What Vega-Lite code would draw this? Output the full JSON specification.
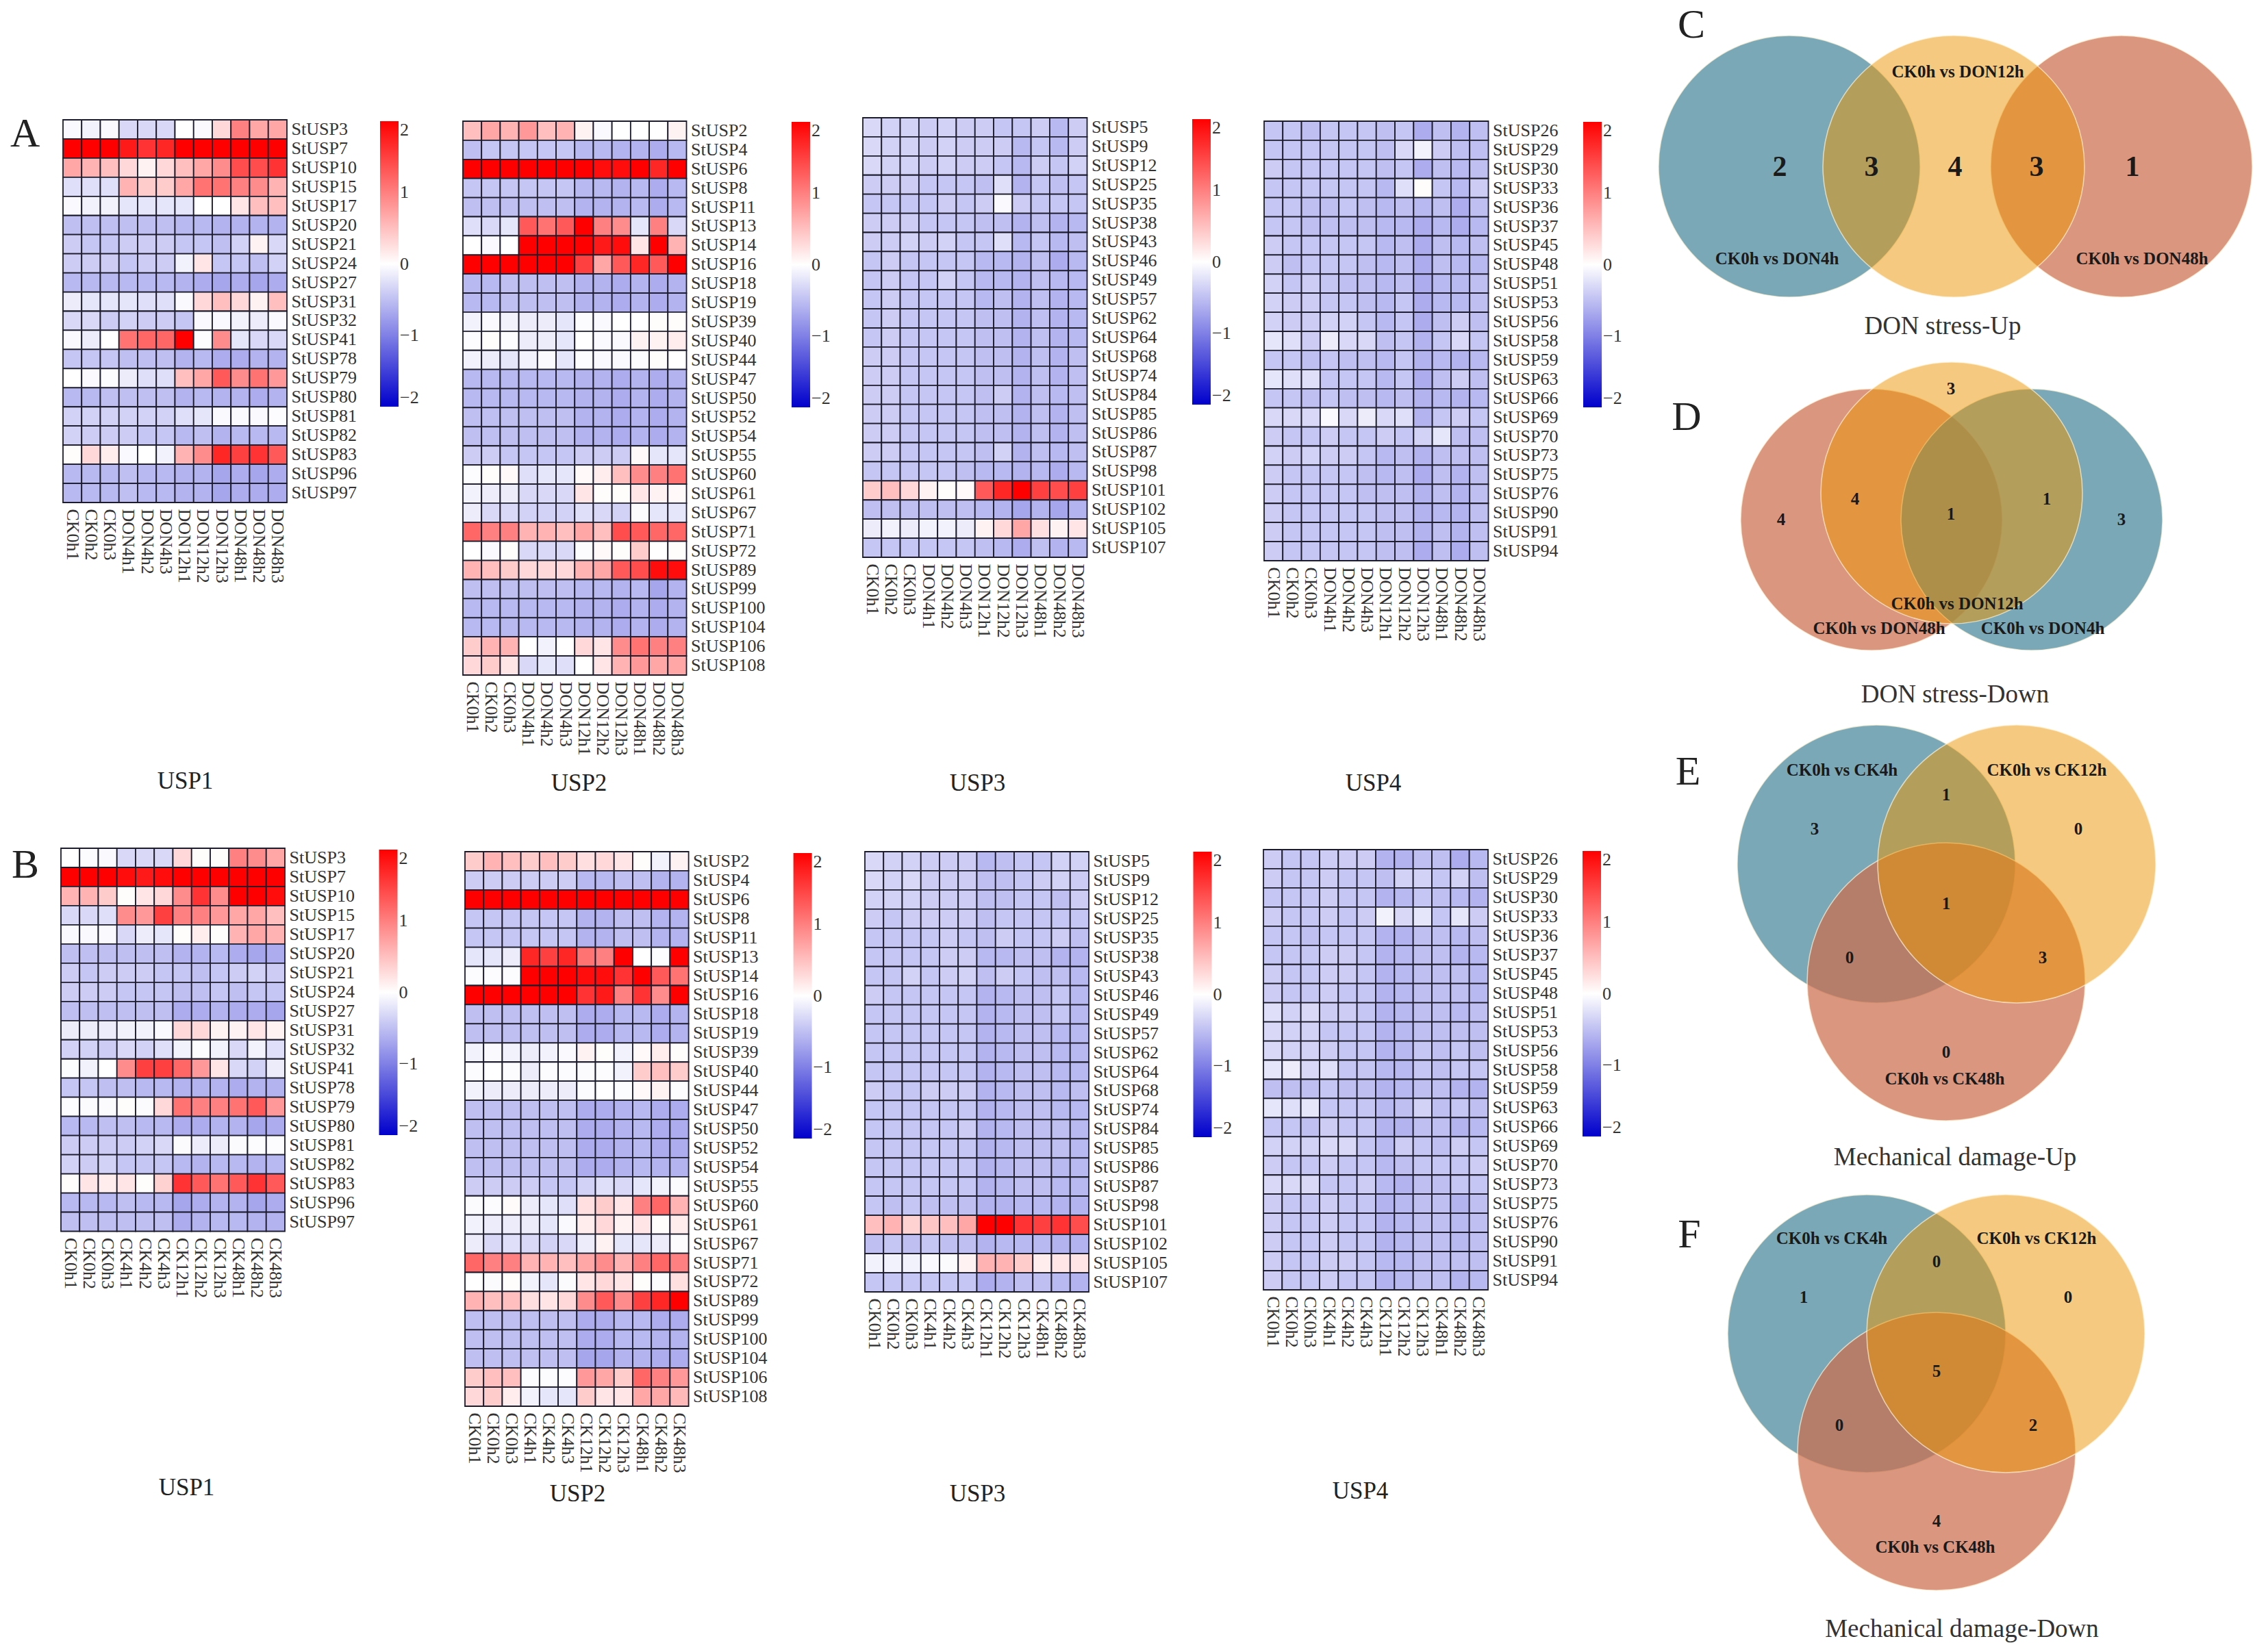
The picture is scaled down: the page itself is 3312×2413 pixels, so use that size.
{"$schema":"https://vega.github.io/schema/vega-lite/v6.json","background":"white","padding":0,"spacing":0,"resolve":{"scale":{"color":"independent"},"legend":{"color":"independent"}},
"params":[{"name":"keys","value":["a","b","c","d","e","f","g2","h","i","j","k","l"]},{"name":"don","value":["CK0h1","CK0h2","CK0h3","DON4h1","DON4h2","DON4h3","DON12h1","DON12h2","DON12h3","DON48h1","DON48h2","DON48h3"]},{"name":"ck","value":["CK0h1","CK0h2","CK0h3","CK4h1","CK4h2","CK4h3","CK12h1","CK12h2","CK12h3","CK48h1","CK48h2","CK48h3"]}],
"config":{"view":{"stroke":null},"font":"Liberation Serif","axis":{"ticks":false,"domain":false,"grid":false,"labelFont":"Liberation Serif","labelFontSize":26,"labelColor":"#333","labelOverlap":false,"labelPadding":9,"labelLimit":300,"titleFont":"Liberation Serif","titleFontWeight":"normal","titleFontSize":35,"titleColor":"#222","titleBaseline":"middle"},"axisX":{"labelAngle":90,"labelAlign":"left","labelBaseline":"middle"},"axisY":{"labelPadding":6},"legend":{"gradientLength":417,"gradientThickness":27,"gradientStrokeWidth":0,"labelFont":"Liberation Serif","labelFontSize":26,"labelColor":"#333","labelOffset":8,"labelOverlap":false,"labelBaseline":"middle"},"title":{"font":"Liberation Serif","fontWeight":"normal","fontSize":60,"color":"#222","anchor":"start","frame":"group","offset":0,"baseline":"alphabetic"},"rect":{"stroke":"#1c1c2c","strokeWidth":1.8}},
"datasets":{
"A1":[
{"g":"StUSP3","a":-0.05,"b":-0.1,"c":-0.05,"d":-0.3,"e":-0.3,"f":-0.3,"g2":0,"h":-0.05,"i":0.3,"j":1,"k":0.7,"l":0.7},
{"g":"StUSP7","a":2,"b":2,"c":2,"d":1.8,"e":1.6,"f":1.7,"g2":2,"h":2,"i":2,"j":2,"k":2,"l":2},
{"g":"StUSP10","a":0.7,"b":0.6,"c":0.5,"d":0.3,"e":0.1,"f":0.3,"g2":0.5,"h":0.7,"i":0.9,"j":1.4,"k":1.4,"l":1.6},
{"g":"StUSP15","a":-0.25,"b":-0.25,"c":-0.25,"d":0.6,"e":0.4,"f":0.4,"g2":0.7,"h":1.1,"i":1.1,"j":1,"k":0.9,"l":0.6},
{"g":"StUSP17","a":-0.05,"b":-0.1,"c":-0.1,"d":-0.2,"e":-0.2,"f":-0.2,"g2":-0.2,"h":0,"i":0,"j":0.2,"k":0.5,"l":0.5},
{"g":"StUSP20","a":-0.5,"b":-0.5,"c":-0.5,"d":-0.5,"e":-0.5,"f":-0.5,"g2":-0.55,"h":-0.55,"i":-0.6,"j":-0.6,"k":-0.6,"l":-0.6},
{"g":"StUSP21","a":-0.4,"b":-0.45,"c":-0.45,"d":-0.4,"e":-0.4,"f":-0.4,"g2":-0.45,"h":-0.45,"i":-0.5,"j":-0.35,"k":0.1,"l":-0.3},
{"g":"StUSP24","a":-0.4,"b":-0.4,"c":-0.4,"d":-0.45,"e":-0.4,"f":-0.4,"g2":-0.1,"h":0.2,"i":-0.45,"j":-0.45,"k":-0.5,"l":-0.35},
{"g":"StUSP27","a":-0.55,"b":-0.55,"c":-0.55,"d":-0.55,"e":-0.55,"f":-0.55,"g2":-0.6,"h":-0.65,"i":-0.7,"j":-0.65,"k":-0.7,"l":-0.65},
{"g":"StUSP31","a":-0.15,"b":-0.2,"c":-0.2,"d":-0.2,"e":-0.25,"f":-0.25,"g2":-0.05,"h":0.3,"i":0.5,"j":0.3,"k":0.1,"l":0.5},
{"g":"StUSP32","a":-0.3,"b":-0.3,"c":-0.4,"d":-0.35,"e":-0.4,"f":-0.4,"g2":-0.45,"h":-0.05,"i":-0.05,"j":-0.1,"k":-0.15,"l":-0.05},
{"g":"StUSP41","a":-0.05,"b":-0.15,"c":0,"d":1.1,"e":1.2,"f":1.2,"g2":2,"h":-0.02,"i":0.9,"j":-0.2,"k":-0.3,"l":-0.3},
{"g":"StUSP78","a":-0.45,"b":-0.45,"c":-0.45,"d":-0.5,"e":-0.5,"f":-0.5,"g2":-0.6,"h":-0.55,"i":-0.65,"j":-0.65,"k":-0.6,"l":-0.6},
{"g":"StUSP79","a":0,"b":-0.05,"c":-0.02,"d":-0.15,"e":-0.25,"f":-0.25,"g2":0.5,"h":0.7,"i":1.3,"j":0.9,"k":1.1,"l":0.8},
{"g":"StUSP80","a":-0.55,"b":-0.55,"c":-0.5,"d":-0.5,"e":-0.5,"f":-0.5,"g2":-0.6,"h":-0.55,"i":-0.6,"j":-0.6,"k":-0.65,"l":-0.6},
{"g":"StUSP81","a":-0.35,"b":-0.35,"c":-0.35,"d":-0.35,"e":-0.35,"f":-0.35,"g2":-0.25,"h":-0.2,"i":-0.05,"j":-0.05,"k":-0.05,"l":-0.02},
{"g":"StUSP82","a":-0.35,"b":-0.4,"c":-0.4,"d":-0.4,"e":-0.45,"f":-0.45,"g2":-0.55,"h":-0.5,"i":-0.6,"j":-0.55,"k":-0.55,"l":-0.55},
{"g":"StUSP83","a":0.02,"b":0.3,"c":0.15,"d":-0.05,"e":0,"f":-0.1,"g2":0.6,"h":0.9,"i":1.7,"j":1.5,"k":1.6,"l":1.3},
{"g":"StUSP96","a":-0.55,"b":-0.55,"c":-0.55,"d":-0.5,"e":-0.55,"f":-0.55,"g2":-0.6,"h":-0.6,"i":-0.7,"j":-0.65,"k":-0.7,"l":-0.65},
{"g":"StUSP97","a":-0.55,"b":-0.55,"c":-0.55,"d":-0.5,"e":-0.55,"f":-0.55,"g2":-0.6,"h":-0.6,"i":-0.7,"j":-0.65,"k":-0.65,"l":-0.65}],
"A2":[
{"g":"StUSP2","a":0.5,"b":0.7,"c":0.6,"d":0.8,"e":0.5,"f":0.6,"g2":0.1,"h":-0.05,"i":0,"j":0,"k":0,"l":0.1},
{"g":"StUSP4","a":-0.5,"b":-0.45,"c":-0.45,"d":-0.45,"e":-0.45,"f":-0.45,"g2":-0.55,"h":-0.55,"i":-0.6,"j":-0.6,"k":-0.65,"l":-0.55},
{"g":"StUSP6","a":2,"b":2,"c":2,"d":2,"e":2,"f":2,"g2":2,"h":1.9,"i":1.9,"j":2,"k":1.7,"l":2},
{"g":"StUSP8","a":-0.45,"b":-0.45,"c":-0.45,"d":-0.45,"e":-0.45,"f":-0.45,"g2":-0.55,"h":-0.55,"i":-0.6,"j":-0.55,"k":-0.65,"l":-0.55},
{"g":"StUSP11","a":-0.5,"b":-0.5,"c":-0.5,"d":-0.5,"e":-0.5,"f":-0.5,"g2":-0.6,"h":-0.6,"i":-0.6,"j":-0.55,"k":-0.65,"l":-0.55},
{"g":"StUSP13","a":-0.25,"b":-0.3,"c":-0.2,"d":1.3,"e":1.1,"f":1.3,"g2":2,"h":1,"i":0.9,"j":-0.2,"k":1,"l":-0.3},
{"g":"StUSP14","a":0,"b":-0.05,"c":0,"d":2,"e":2,"f":2,"g2":2,"h":1.8,"i":1.9,"j":0.2,"k":2,"l":0.6},
{"g":"StUSP16","a":2,"b":2,"c":2,"d":2,"e":2,"f":2,"g2":1.5,"h":0.7,"i":1.3,"j":1.7,"k":1.3,"l":2},
{"g":"StUSP18","a":-0.55,"b":-0.55,"c":-0.5,"d":-0.5,"e":-0.5,"f":-0.5,"g2":-0.6,"h":-0.6,"i":-0.65,"j":-0.6,"k":-0.65,"l":-0.6},
{"g":"StUSP19","a":-0.55,"b":-0.55,"c":-0.5,"d":-0.5,"e":-0.5,"f":-0.5,"g2":-0.6,"h":-0.6,"i":-0.65,"j":-0.6,"k":-0.65,"l":-0.6},
{"g":"StUSP39","a":-0.1,"b":-0.05,"c":-0.1,"d":-0.15,"e":-0.15,"f":-0.2,"g2":-0.02,"h":-0.05,"i":0,"j":0,"k":0.02,"l":0.02},
{"g":"StUSP40","a":-0.02,"b":0.02,"c":-0.02,"d":-0.15,"e":-0.15,"f":-0.2,"g2":0,"h":-0.05,"i":-0.05,"j":0.1,"k":0.1,"l":0.15},
{"g":"StUSP44","a":-0.1,"b":-0.15,"c":-0.2,"d":-0.1,"e":-0.05,"f":-0.2,"g2":-0.02,"h":-0.05,"i":-0.05,"j":-0.02,"k":0.02,"l":0},
{"g":"StUSP47","a":-0.55,"b":-0.55,"c":-0.55,"d":-0.55,"e":-0.55,"f":-0.55,"g2":-0.6,"h":-0.6,"i":-0.65,"j":-0.6,"k":-0.65,"l":-0.6},
{"g":"StUSP50","a":-0.55,"b":-0.55,"c":-0.55,"d":-0.55,"e":-0.55,"f":-0.55,"g2":-0.6,"h":-0.6,"i":-0.65,"j":-0.6,"k":-0.65,"l":-0.6},
{"g":"StUSP52","a":-0.5,"b":-0.5,"c":-0.5,"d":-0.5,"e":-0.5,"f":-0.5,"g2":-0.6,"h":-0.6,"i":-0.65,"j":-0.6,"k":-0.65,"l":-0.6},
{"g":"StUSP54","a":-0.5,"b":-0.5,"c":-0.5,"d":-0.5,"e":-0.5,"f":-0.5,"g2":-0.6,"h":-0.6,"i":-0.65,"j":-0.6,"k":-0.65,"l":-0.6},
{"g":"StUSP55","a":-0.4,"b":-0.4,"c":-0.45,"d":-0.45,"e":-0.45,"f":-0.45,"g2":-0.4,"h":-0.4,"i":-0.4,"j":0.05,"k":-0.2,"l":-0.2},
{"g":"StUSP60","a":-0.02,"b":0.02,"c":0.05,"d":-0.25,"e":-0.2,"f":-0.2,"g2":0.05,"h":0.15,"i":0.5,"j":0.9,"k":1,"l":1.1},
{"g":"StUSP61","a":-0.1,"b":-0.15,"c":-0.15,"d":-0.3,"e":-0.3,"f":-0.3,"g2":0.2,"h":0.02,"i":0.02,"j":0.2,"k":0.1,"l":0.05},
{"g":"StUSP67","a":-0.15,"b":-0.3,"c":-0.3,"d":-0.35,"e":-0.35,"f":-0.35,"g2":-0.25,"h":-0.3,"i":-0.35,"j":-0.03,"k":-0.2,"l":-0.2},
{"g":"StUSP71","a":1.2,"b":1,"c":1,"d":0.6,"e":0.6,"f":0.5,"g2":0.7,"h":0.5,"i":1.4,"j":1.3,"k":1.2,"l":1.2},
{"g":"StUSP72","a":0,"b":-0.05,"c":0.02,"d":-0.3,"e":-0.3,"f":-0.3,"g2":-0.02,"h":0.05,"i":0.02,"j":0.4,"k":0,"l":0.02},
{"g":"StUSP89","a":0.6,"b":0.5,"c":0.4,"d":0.3,"e":0.3,"f":0.3,"g2":0.6,"h":0.7,"i":1.3,"j":1.4,"k":1.9,"l":1.9},
{"g":"StUSP99","a":-0.5,"b":-0.5,"c":-0.5,"d":-0.5,"e":-0.5,"f":-0.5,"g2":-0.55,"h":-0.55,"i":-0.6,"j":-0.55,"k":-0.7,"l":-0.6},
{"g":"StUSP100","a":-0.55,"b":-0.55,"c":-0.55,"d":-0.55,"e":-0.55,"f":-0.55,"g2":-0.6,"h":-0.6,"i":-0.65,"j":-0.6,"k":-0.65,"l":-0.6},
{"g":"StUSP104","a":-0.55,"b":-0.55,"c":-0.55,"d":-0.55,"e":-0.55,"f":-0.55,"g2":-0.6,"h":-0.6,"i":-0.65,"j":-0.6,"k":-0.65,"l":-0.6},
{"g":"StUSP106","a":0.4,"b":0.6,"c":0.6,"d":0,"e":-0.1,"f":0,"g2":0.3,"h":0.2,"i":0.9,"j":1.1,"k":1,"l":1},
{"g":"StUSP108","a":0.3,"b":0.4,"c":0.2,"d":-0.3,"e":-0.2,"f":-0.25,"g2":0,"h":0.2,"i":0.6,"j":0.8,"k":0.7,"l":0.7}],
"A3":[
{"g":"StUSP5","a":-0.3,"b":-0.35,"c":-0.35,"d":-0.4,"e":-0.35,"f":-0.4,"g2":-0.4,"h":-0.45,"i":-0.45,"j":-0.4,"k":-0.55,"l":-0.4},
{"g":"StUSP9","a":-0.3,"b":-0.35,"c":-0.35,"d":-0.4,"e":-0.35,"f":-0.4,"g2":-0.4,"h":-0.4,"i":-0.55,"j":-0.45,"k":-0.55,"l":-0.4},
{"g":"StUSP12","a":-0.3,"b":-0.35,"c":-0.35,"d":-0.4,"e":-0.35,"f":-0.4,"g2":-0.4,"h":-0.45,"i":-0.55,"j":-0.4,"k":-0.45,"l":-0.35},
{"g":"StUSP25","a":-0.4,"b":-0.4,"c":-0.4,"d":-0.45,"e":-0.45,"f":-0.45,"g2":-0.5,"h":-0.25,"i":-0.6,"j":-0.45,"k":-0.5,"l":-0.45},
{"g":"StUSP35","a":-0.45,"b":-0.45,"c":-0.45,"d":-0.45,"e":-0.4,"f":-0.45,"g2":-0.4,"h":-0.05,"i":-0.4,"j":-0.45,"k":-0.45,"l":-0.45},
{"g":"StUSP38","a":-0.4,"b":-0.4,"c":-0.4,"d":-0.45,"e":-0.45,"f":-0.45,"g2":-0.5,"h":-0.5,"i":-0.6,"j":-0.5,"k":-0.6,"l":-0.55},
{"g":"StUSP43","a":-0.4,"b":-0.4,"c":-0.35,"d":-0.4,"e":-0.35,"f":-0.45,"g2":-0.45,"h":-0.25,"i":-0.55,"j":-0.45,"k":-0.55,"l":-0.5},
{"g":"StUSP46","a":-0.45,"b":-0.4,"c":-0.45,"d":-0.45,"e":-0.45,"f":-0.45,"g2":-0.55,"h":-0.55,"i":-0.6,"j":-0.5,"k":-0.65,"l":-0.55},
{"g":"StUSP49","a":-0.45,"b":-0.4,"c":-0.45,"d":-0.45,"e":-0.35,"f":-0.45,"g2":-0.55,"h":-0.55,"i":-0.6,"j":-0.5,"k":-0.55,"l":-0.55},
{"g":"StUSP57","a":-0.45,"b":-0.4,"c":-0.45,"d":-0.45,"e":-0.45,"f":-0.45,"g2":-0.55,"h":-0.5,"i":-0.6,"j":-0.5,"k":-0.6,"l":-0.55},
{"g":"StUSP62","a":-0.45,"b":-0.4,"c":-0.45,"d":-0.45,"e":-0.45,"f":-0.45,"g2":-0.5,"h":-0.5,"i":-0.6,"j":-0.5,"k":-0.6,"l":-0.55},
{"g":"StUSP64","a":-0.45,"b":-0.4,"c":-0.45,"d":-0.45,"e":-0.45,"f":-0.45,"g2":-0.5,"h":-0.5,"i":-0.6,"j":-0.5,"k":-0.6,"l":-0.55},
{"g":"StUSP68","a":-0.4,"b":-0.4,"c":-0.45,"d":-0.45,"e":-0.45,"f":-0.45,"g2":-0.5,"h":-0.5,"i":-0.6,"j":-0.5,"k":-0.6,"l":-0.5},
{"g":"StUSP74","a":-0.4,"b":-0.4,"c":-0.45,"d":-0.45,"e":-0.45,"f":-0.45,"g2":-0.5,"h":-0.5,"i":-0.6,"j":-0.5,"k":-0.6,"l":-0.5},
{"g":"StUSP84","a":-0.4,"b":-0.4,"c":-0.45,"d":-0.45,"e":-0.45,"f":-0.45,"g2":-0.5,"h":-0.4,"i":-0.6,"j":-0.5,"k":-0.55,"l":-0.5},
{"g":"StUSP85","a":-0.4,"b":-0.4,"c":-0.45,"d":-0.45,"e":-0.45,"f":-0.45,"g2":-0.5,"h":-0.5,"i":-0.6,"j":-0.5,"k":-0.6,"l":-0.5},
{"g":"StUSP86","a":-0.4,"b":-0.4,"c":-0.45,"d":-0.45,"e":-0.45,"f":-0.45,"g2":-0.5,"h":-0.5,"i":-0.6,"j":-0.5,"k":-0.6,"l":-0.5},
{"g":"StUSP87","a":-0.4,"b":-0.4,"c":-0.45,"d":-0.45,"e":-0.45,"f":-0.45,"g2":-0.5,"h":-0.35,"i":-0.6,"j":-0.5,"k":-0.55,"l":-0.5},
{"g":"StUSP98","a":-0.45,"b":-0.45,"c":-0.45,"d":-0.45,"e":-0.45,"f":-0.5,"g2":-0.55,"h":-0.55,"i":-0.6,"j":-0.55,"k":-0.65,"l":-0.55},
{"g":"StUSP101","a":0.4,"b":0.5,"c":0.3,"d":0.1,"e":0.02,"f":0.05,"g2":1.3,"h":1.7,"i":2,"j":1.5,"k":1.4,"l":1.5},
{"g":"StUSP102","a":-0.5,"b":-0.5,"c":-0.5,"d":-0.5,"e":-0.5,"f":-0.5,"g2":-0.55,"h":-0.6,"i":-0.7,"j":-0.6,"k":-0.7,"l":-0.6},
{"g":"StUSP105","a":-0.15,"b":-0.1,"c":-0.15,"d":-0.1,"e":-0.1,"f":-0.15,"g2":0.1,"h":0.3,"i":0.7,"j":0.25,"k":0.1,"l":0.2},
{"g":"StUSP107","a":-0.45,"b":-0.45,"c":-0.45,"d":-0.45,"e":-0.45,"f":-0.45,"g2":-0.5,"h":-0.55,"i":-0.65,"j":-0.5,"k":-0.6,"l":-0.55}],
"A4":[
{"g":"StUSP26","a":-0.45,"b":-0.45,"c":-0.5,"d":-0.45,"e":-0.45,"f":-0.45,"g2":-0.5,"h":-0.45,"i":-0.65,"j":-0.5,"k":-0.6,"l":-0.5},
{"g":"StUSP29","a":-0.45,"b":-0.45,"c":-0.45,"d":-0.45,"e":-0.45,"f":-0.45,"g2":-0.5,"h":-0.3,"i":-0.1,"j":-0.4,"k":-0.5,"l":-0.5},
{"g":"StUSP30","a":-0.4,"b":-0.45,"c":-0.45,"d":-0.45,"e":-0.45,"f":-0.45,"g2":-0.5,"h":-0.45,"i":-0.65,"j":-0.5,"k":-0.55,"l":-0.5},
{"g":"StUSP33","a":-0.45,"b":-0.45,"c":-0.45,"d":-0.45,"e":-0.45,"f":-0.45,"g2":-0.55,"h":-0.25,"i":0.02,"j":-0.45,"k":-0.55,"l":-0.4},
{"g":"StUSP36","a":-0.45,"b":-0.45,"c":-0.5,"d":-0.5,"e":-0.45,"f":-0.5,"g2":-0.55,"h":-0.5,"i":-0.55,"j":-0.5,"k":-0.65,"l":-0.5},
{"g":"StUSP37","a":-0.45,"b":-0.45,"c":-0.5,"d":-0.5,"e":-0.5,"f":-0.5,"g2":-0.55,"h":-0.55,"i":-0.65,"j":-0.55,"k":-0.65,"l":-0.55},
{"g":"StUSP45","a":-0.4,"b":-0.45,"c":-0.45,"d":-0.45,"e":-0.45,"f":-0.45,"g2":-0.55,"h":-0.5,"i":-0.65,"j":-0.5,"k":-0.55,"l":-0.5},
{"g":"StUSP48","a":-0.4,"b":-0.5,"c":-0.45,"d":-0.45,"e":-0.45,"f":-0.5,"g2":-0.55,"h":-0.5,"i":-0.65,"j":-0.5,"k":-0.55,"l":-0.55},
{"g":"StUSP51","a":-0.35,"b":-0.45,"c":-0.4,"d":-0.45,"e":-0.5,"f":-0.5,"g2":-0.55,"h":-0.5,"i":-0.65,"j":-0.55,"k":-0.55,"l":-0.5},
{"g":"StUSP53","a":-0.35,"b":-0.4,"c":-0.4,"d":-0.45,"e":-0.45,"f":-0.5,"g2":-0.55,"h":-0.45,"i":-0.65,"j":-0.55,"k":-0.55,"l":-0.5},
{"g":"StUSP56","a":-0.35,"b":-0.4,"c":-0.4,"d":-0.35,"e":-0.35,"f":-0.45,"g2":-0.55,"h":-0.45,"i":-0.65,"j":-0.5,"k":-0.4,"l":-0.5},
{"g":"StUSP58","a":-0.2,"b":-0.25,"c":-0.4,"d":-0.15,"e":-0.3,"f":-0.3,"g2":-0.5,"h":-0.45,"i":-0.6,"j":-0.45,"k":-0.3,"l":-0.45},
{"g":"StUSP59","a":-0.45,"b":-0.45,"c":-0.5,"d":-0.45,"e":-0.5,"f":-0.5,"g2":-0.55,"h":-0.45,"i":-0.6,"j":-0.55,"k":-0.6,"l":-0.55},
{"g":"StUSP63","a":-0.2,"b":-0.25,"c":-0.25,"d":-0.45,"e":-0.45,"f":-0.45,"g2":-0.55,"h":-0.45,"i":-0.65,"j":-0.5,"k":-0.4,"l":-0.5},
{"g":"StUSP66","a":-0.45,"b":-0.45,"c":-0.5,"d":-0.45,"e":-0.5,"f":-0.5,"g2":-0.55,"h":-0.5,"i":-0.6,"j":-0.55,"k":-0.6,"l":-0.55},
{"g":"StUSP69","a":-0.3,"b":-0.3,"c":-0.3,"d":-0.05,"e":-0.3,"f":-0.15,"g2":-0.3,"h":-0.25,"i":-0.6,"j":-0.45,"k":-0.4,"l":-0.45},
{"g":"StUSP70","a":-0.4,"b":-0.45,"c":-0.45,"d":-0.4,"e":-0.45,"f":-0.45,"g2":-0.4,"h":-0.45,"i":-0.35,"j":-0.2,"k":-0.5,"l":-0.5},
{"g":"StUSP73","a":-0.35,"b":-0.4,"c":-0.35,"d":-0.4,"e":-0.4,"f":-0.45,"g2":-0.55,"h":-0.5,"i":-0.6,"j":-0.5,"k":-0.5,"l":-0.5},
{"g":"StUSP75","a":-0.4,"b":-0.45,"c":-0.45,"d":-0.45,"e":-0.45,"f":-0.5,"g2":-0.55,"h":-0.5,"i":-0.65,"j":-0.5,"k":-0.6,"l":-0.5},
{"g":"StUSP76","a":-0.4,"b":-0.45,"c":-0.45,"d":-0.45,"e":-0.45,"f":-0.5,"g2":-0.5,"h":-0.5,"i":-0.6,"j":-0.5,"k":-0.6,"l":-0.5},
{"g":"StUSP90","a":-0.4,"b":-0.45,"c":-0.45,"d":-0.45,"e":-0.45,"f":-0.45,"g2":-0.5,"h":-0.5,"i":-0.6,"j":-0.55,"k":-0.6,"l":-0.5},
{"g":"StUSP91","a":-0.4,"b":-0.45,"c":-0.45,"d":-0.45,"e":-0.45,"f":-0.45,"g2":-0.5,"h":-0.5,"i":-0.6,"j":-0.5,"k":-0.6,"l":-0.5},
{"g":"StUSP94","a":-0.4,"b":-0.45,"c":-0.45,"d":-0.45,"e":-0.45,"f":-0.45,"g2":-0.5,"h":-0.5,"i":-0.65,"j":-0.5,"k":-0.65,"l":-0.5}],
"B1":[
{"g":"StUSP3","a":0,"b":-0.02,"c":-0.05,"d":-0.3,"e":-0.3,"f":-0.3,"g2":0.3,"h":0.02,"i":0.02,"j":1,"k":0.9,"l":0.7},
{"g":"StUSP7","a":2,"b":2,"c":2,"d":1.9,"e":1.8,"f":1.9,"g2":2,"h":2,"i":2,"j":2,"k":2,"l":2},
{"g":"StUSP10","a":0.6,"b":0.6,"c":0.4,"d":0.02,"e":0.2,"f":0.3,"g2":0.9,"h":1.6,"i":0.9,"j":2,"k":2,"l":1.9},
{"g":"StUSP15","a":-0.3,"b":-0.3,"c":-0.25,"d":0.9,"e":0.8,"f":1.5,"g2":1,"h":1,"i":0.8,"j":0.7,"k":0.7,"l":0.5},
{"g":"StUSP17","a":-0.05,"b":-0.05,"c":-0.05,"d":-0.3,"e":-0.15,"f":-0.2,"g2":0.02,"h":0.15,"i":0.02,"j":0.6,"k":0.7,"l":0.6},
{"g":"StUSP20","a":-0.5,"b":-0.5,"c":-0.5,"d":-0.5,"e":-0.5,"f":-0.5,"g2":-0.6,"h":-0.6,"i":-0.55,"j":-0.65,"k":-0.7,"l":-0.65},
{"g":"StUSP21","a":-0.4,"b":-0.45,"c":-0.4,"d":-0.4,"e":-0.4,"f":-0.45,"g2":-0.45,"h":-0.5,"i":-0.45,"j":-0.4,"k":-0.35,"l":-0.4},
{"g":"StUSP24","a":-0.4,"b":-0.4,"c":-0.4,"d":-0.45,"e":-0.45,"f":-0.45,"g2":-0.5,"h":-0.5,"i":-0.45,"j":-0.5,"k":-0.45,"l":-0.45},
{"g":"StUSP27","a":-0.5,"b":-0.5,"c":-0.5,"d":-0.5,"e":-0.5,"f":-0.5,"g2":-0.65,"h":-0.65,"i":-0.6,"j":-0.65,"k":-0.65,"l":-0.7},
{"g":"StUSP31","a":-0.15,"b":-0.15,"c":-0.15,"d":-0.1,"e":-0.1,"f":-0.05,"g2":0.3,"h":0.3,"i":0.1,"j":0.1,"k":0.2,"l":0.1},
{"g":"StUSP32","a":-0.35,"b":-0.35,"c":-0.4,"d":-0.3,"e":-0.35,"f":-0.25,"g2":-0.1,"h":-0.02,"i":-0.1,"j":-0.3,"k":-0.1,"l":-0.25},
{"g":"StUSP41","a":-0.02,"b":-0.1,"c":0,"d":0.9,"e":1.5,"f":1.5,"g2":1.2,"h":0.8,"i":0.2,"j":-0.3,"k":-0.35,"l":-0.15},
{"g":"StUSP78","a":-0.45,"b":-0.45,"c":-0.5,"d":-0.5,"e":-0.55,"f":-0.55,"g2":-0.6,"h":-0.6,"i":-0.6,"j":-0.65,"k":-0.6,"l":-0.6},
{"g":"StUSP79","a":-0.02,"b":-0.03,"c":-0.03,"d":0.02,"e":-0.03,"f":0.3,"g2":1.1,"h":1,"i":1,"j":1.1,"k":1.3,"l":0.8},
{"g":"StUSP80","a":-0.55,"b":-0.55,"c":-0.5,"d":-0.5,"e":-0.55,"f":-0.55,"g2":-0.65,"h":-0.65,"i":-0.6,"j":-0.6,"k":-0.7,"l":-0.65},
{"g":"StUSP81","a":-0.4,"b":-0.4,"c":-0.4,"d":-0.4,"e":-0.35,"f":-0.3,"g2":-0.03,"h":-0.15,"i":-0.15,"j":-0.03,"k":-0.02,"l":-0.02},
{"g":"StUSP82","a":-0.35,"b":-0.4,"c":-0.35,"d":-0.45,"e":-0.45,"f":-0.45,"g2":-0.55,"h":-0.6,"i":-0.55,"j":-0.55,"k":-0.6,"l":-0.55},
{"g":"StUSP83","a":0.02,"b":0.2,"c":0.15,"d":0.2,"e":0.02,"f":0.35,"g2":1.6,"h":1.3,"i":1.1,"j":1.3,"k":1.6,"l":1.3},
{"g":"StUSP96","a":-0.55,"b":-0.55,"c":-0.55,"d":-0.5,"e":-0.55,"f":-0.55,"g2":-0.7,"h":-0.65,"i":-0.6,"j":-0.6,"k":-0.7,"l":-0.65},
{"g":"StUSP97","a":-0.5,"b":-0.5,"c":-0.5,"d":-0.5,"e":-0.5,"f":-0.5,"g2":-0.65,"h":-0.6,"i":-0.55,"j":-0.55,"k":-0.6,"l":-0.6}],
"B2":[
{"g":"StUSP2","a":0.4,"b":0.6,"c":0.5,"d":0.4,"e":0.5,"f":0.4,"g2":0.25,"h":0.3,"i":0.2,"j":0.02,"k":-0.1,"l":0.1},
{"g":"StUSP4","a":-0.4,"b":-0.4,"c":-0.4,"d":-0.4,"e":-0.4,"f":-0.4,"g2":-0.55,"h":-0.55,"i":-0.5,"j":-0.5,"k":-0.6,"l":-0.6},
{"g":"StUSP6","a":2,"b":2,"c":2,"d":2,"e":2,"f":2,"g2":2,"h":2,"i":2,"j":2,"k":2,"l":2},
{"g":"StUSP8","a":-0.45,"b":-0.45,"c":-0.45,"d":-0.45,"e":-0.45,"f":-0.45,"g2":-0.6,"h":-0.6,"i":-0.5,"j":-0.5,"k":-0.6,"l":-0.6},
{"g":"StUSP11","a":-0.45,"b":-0.45,"c":-0.45,"d":-0.45,"e":-0.45,"f":-0.45,"g2":-0.6,"h":-0.6,"i":-0.5,"j":-0.5,"k":-0.6,"l":-0.6},
{"g":"StUSP13","a":-0.2,"b":-0.2,"c":-0.15,"d":1.7,"e":1.5,"f":1.7,"g2":1.1,"h":1,"i":2,"j":0,"k":-0.02,"l":2},
{"g":"StUSP14","a":-0.02,"b":-0.02,"c":-0.02,"d":2,"e":2,"f":2,"g2":1.9,"h":1.9,"i":1.6,"j":2,"k":1.3,"l":1.1},
{"g":"StUSP16","a":2,"b":2,"c":2,"d":2,"e":2,"f":2,"g2":1.6,"h":1.8,"i":1,"j":1.6,"k":0.9,"l":2},
{"g":"StUSP18","a":-0.5,"b":-0.5,"c":-0.5,"d":-0.5,"e":-0.5,"f":-0.5,"g2":-0.65,"h":-0.65,"i":-0.55,"j":-0.55,"k":-0.65,"l":-0.6},
{"g":"StUSP19","a":-0.5,"b":-0.5,"c":-0.5,"d":-0.5,"e":-0.5,"f":-0.5,"g2":-0.65,"h":-0.65,"i":-0.55,"j":-0.55,"k":-0.65,"l":-0.6},
{"g":"StUSP39","a":-0.1,"b":-0.05,"c":-0.1,"d":-0.15,"e":-0.1,"f":-0.05,"g2":0.1,"h":0.02,"i":-0.1,"j":0.05,"k":0.15,"l":0.02},
{"g":"StUSP40","a":-0.02,"b":0,"c":-0.02,"d":-0.15,"e":-0.02,"f":-0.02,"g2":-0.03,"h":-0.02,"i":-0.1,"j":0.4,"k":0.5,"l":0.4},
{"g":"StUSP44","a":-0.1,"b":-0.15,"c":-0.15,"d":-0.15,"e":-0.15,"f":-0.15,"g2":-0.02,"h":0,"i":-0.02,"j":0.05,"k":0.1,"l":-0.02},
{"g":"StUSP47","a":-0.5,"b":-0.5,"c":-0.5,"d":-0.5,"e":-0.5,"f":-0.5,"g2":-0.65,"h":-0.65,"i":-0.6,"j":-0.55,"k":-0.65,"l":-0.65},
{"g":"StUSP50","a":-0.5,"b":-0.5,"c":-0.5,"d":-0.5,"e":-0.5,"f":-0.5,"g2":-0.65,"h":-0.65,"i":-0.6,"j":-0.55,"k":-0.65,"l":-0.65},
{"g":"StUSP52","a":-0.5,"b":-0.5,"c":-0.5,"d":-0.5,"e":-0.5,"f":-0.5,"g2":-0.65,"h":-0.65,"i":-0.6,"j":-0.55,"k":-0.65,"l":-0.65},
{"g":"StUSP54","a":-0.5,"b":-0.5,"c":-0.5,"d":-0.5,"e":-0.5,"f":-0.5,"g2":-0.65,"h":-0.65,"i":-0.6,"j":-0.55,"k":-0.6,"l":-0.6},
{"g":"StUSP55","a":-0.4,"b":-0.4,"c":-0.4,"d":-0.4,"e":-0.45,"f":-0.45,"g2":-0.35,"h":-0.25,"i":-0.3,"j":-0.2,"k":-0.1,"l":-0.03},
{"g":"StUSP60","a":-0.03,"b":-0.02,"c":0.03,"d":-0.15,"e":-0.2,"f":-0.25,"g2":0.25,"h":0.4,"i":0.2,"j":1,"k":1.2,"l":0.6},
{"g":"StUSP61","a":-0.1,"b":-0.15,"c":-0.15,"d":-0.15,"e":-0.2,"f":-0.05,"g2":0.15,"h":0.3,"i":0.1,"j":0.2,"k":0.02,"l":0.15},
{"g":"StUSP67","a":-0.15,"b":-0.3,"c":-0.25,"d":-0.3,"e":-0.35,"f":-0.3,"g2":-0.15,"h":0.1,"i":-0.2,"j":-0.2,"k":-0.15,"l":-0.02},
{"g":"StUSP71","a":1.2,"b":1,"c":1,"d":0.6,"e":0.6,"f":0.5,"g2":0.7,"h":0.9,"i":0.6,"j":1,"k":1.2,"l":1},
{"g":"StUSP72","a":0,"b":-0.03,"c":0.02,"d":-0.1,"e":-0.2,"f":-0.03,"g2":0.2,"h":0.3,"i":0.2,"j":0.02,"k":-0.02,"l":0.25},
{"g":"StUSP89","a":0.6,"b":0.5,"c":0.5,"d":0.25,"e":0.2,"f":0.3,"g2":0.9,"h":1.3,"i":0.9,"j":1.5,"k":1.7,"l":2},
{"g":"StUSP99","a":-0.5,"b":-0.5,"c":-0.5,"d":-0.5,"e":-0.5,"f":-0.5,"g2":-0.65,"h":-0.65,"i":-0.55,"j":-0.55,"k":-0.65,"l":-0.65},
{"g":"StUSP100","a":-0.5,"b":-0.5,"c":-0.5,"d":-0.5,"e":-0.5,"f":-0.5,"g2":-0.65,"h":-0.65,"i":-0.55,"j":-0.55,"k":-0.6,"l":-0.6},
{"g":"StUSP104","a":-0.5,"b":-0.5,"c":-0.5,"d":-0.5,"e":-0.5,"f":-0.5,"g2":-0.7,"h":-0.7,"i":-0.6,"j":-0.6,"k":-0.65,"l":-0.65},
{"g":"StUSP106","a":0.4,"b":0.5,"c":0.5,"d":-0.02,"e":-0.02,"f":-0.02,"g2":0.8,"h":0.7,"i":0.4,"j":1.2,"k":1,"l":0.8},
{"g":"StUSP108","a":0.3,"b":0.4,"c":0.15,"d":-0.1,"e":-0.2,"f":-0.2,"g2":0.4,"h":0.2,"i":0.2,"j":0.7,"k":0.7,"l":0.55}],
"B3":[
{"g":"StUSP5","a":-0.3,"b":-0.35,"c":-0.35,"d":-0.4,"e":-0.4,"f":-0.4,"g2":-0.55,"h":-0.5,"i":-0.45,"j":-0.45,"k":-0.35,"l":-0.35},
{"g":"StUSP9","a":-0.3,"b":-0.35,"c":-0.3,"d":-0.4,"e":-0.4,"f":-0.4,"g2":-0.5,"h":-0.5,"i":-0.45,"j":-0.4,"k":-0.35,"l":-0.4},
{"g":"StUSP12","a":-0.35,"b":-0.35,"c":-0.35,"d":-0.4,"e":-0.4,"f":-0.4,"g2":-0.5,"h":-0.5,"i":-0.45,"j":-0.45,"k":-0.5,"l":-0.4},
{"g":"StUSP25","a":-0.4,"b":-0.45,"c":-0.4,"d":-0.4,"e":-0.4,"f":-0.4,"g2":-0.5,"h":-0.45,"i":-0.45,"j":-0.45,"k":-0.45,"l":-0.45},
{"g":"StUSP35","a":-0.45,"b":-0.45,"c":-0.45,"d":-0.45,"e":-0.4,"f":-0.45,"g2":-0.5,"h":-0.4,"i":-0.45,"j":-0.45,"k":-0.4,"l":-0.5},
{"g":"StUSP38","a":-0.45,"b":-0.45,"c":-0.45,"d":-0.45,"e":-0.4,"f":-0.4,"g2":-0.55,"h":-0.55,"i":-0.5,"j":-0.5,"k":-0.6,"l":-0.6},
{"g":"StUSP43","a":-0.45,"b":-0.45,"c":-0.35,"d":-0.45,"e":-0.4,"f":-0.35,"g2":-0.5,"h":-0.4,"i":-0.45,"j":-0.5,"k":-0.5,"l":-0.55},
{"g":"StUSP46","a":-0.4,"b":-0.45,"c":-0.45,"d":-0.45,"e":-0.45,"f":-0.45,"g2":-0.6,"h":-0.55,"i":-0.5,"j":-0.5,"k":-0.45,"l":-0.55},
{"g":"StUSP49","a":-0.45,"b":-0.45,"c":-0.45,"d":-0.45,"e":-0.45,"f":-0.45,"g2":-0.6,"h":-0.55,"i":-0.5,"j":-0.5,"k":-0.45,"l":-0.55},
{"g":"StUSP57","a":-0.45,"b":-0.45,"c":-0.45,"d":-0.45,"e":-0.45,"f":-0.45,"g2":-0.6,"h":-0.55,"i":-0.5,"j":-0.5,"k":-0.55,"l":-0.55},
{"g":"StUSP62","a":-0.45,"b":-0.45,"c":-0.45,"d":-0.45,"e":-0.45,"f":-0.45,"g2":-0.6,"h":-0.55,"i":-0.5,"j":-0.5,"k":-0.55,"l":-0.55},
{"g":"StUSP64","a":-0.45,"b":-0.45,"c":-0.45,"d":-0.45,"e":-0.45,"f":-0.45,"g2":-0.6,"h":-0.55,"i":-0.5,"j":-0.5,"k":-0.55,"l":-0.55},
{"g":"StUSP68","a":-0.4,"b":-0.45,"c":-0.45,"d":-0.4,"e":-0.4,"f":-0.4,"g2":-0.6,"h":-0.55,"i":-0.5,"j":-0.5,"k":-0.55,"l":-0.5},
{"g":"StUSP74","a":-0.45,"b":-0.45,"c":-0.45,"d":-0.45,"e":-0.45,"f":-0.45,"g2":-0.6,"h":-0.55,"i":-0.5,"j":-0.5,"k":-0.55,"l":-0.55},
{"g":"StUSP84","a":-0.45,"b":-0.45,"c":-0.45,"d":-0.45,"e":-0.45,"f":-0.4,"g2":-0.6,"h":-0.55,"i":-0.5,"j":-0.5,"k":-0.5,"l":-0.55},
{"g":"StUSP85","a":-0.45,"b":-0.45,"c":-0.45,"d":-0.45,"e":-0.45,"f":-0.45,"g2":-0.6,"h":-0.55,"i":-0.5,"j":-0.5,"k":-0.5,"l":-0.55},
{"g":"StUSP86","a":-0.45,"b":-0.45,"c":-0.45,"d":-0.45,"e":-0.45,"f":-0.45,"g2":-0.6,"h":-0.55,"i":-0.5,"j":-0.5,"k":-0.55,"l":-0.55},
{"g":"StUSP87","a":-0.45,"b":-0.45,"c":-0.45,"d":-0.45,"e":-0.45,"f":-0.45,"g2":-0.6,"h":-0.55,"i":-0.5,"j":-0.5,"k":-0.55,"l":-0.55},
{"g":"StUSP98","a":-0.45,"b":-0.5,"c":-0.45,"d":-0.5,"e":-0.5,"f":-0.5,"g2":-0.6,"h":-0.6,"i":-0.55,"j":-0.55,"k":-0.6,"l":-0.6},
{"g":"StUSP101","a":0.5,"b":0.6,"c":0.35,"d":0.45,"e":0.5,"f":0.7,"g2":2,"h":2,"i":1.6,"j":1.5,"k":1.6,"l":1.4},
{"g":"StUSP102","a":-0.5,"b":-0.45,"c":-0.5,"d":-0.45,"e":-0.5,"f":-0.5,"g2":-0.6,"h":-0.55,"i":-0.55,"j":-0.55,"k":-0.6,"l":-0.6},
{"g":"StUSP105","a":-0.1,"b":-0.1,"c":-0.1,"d":-0.05,"e":-0.03,"f":0.1,"g2":0.6,"h":0.6,"i":0.4,"j":0.15,"k":0.2,"l":0.2},
{"g":"StUSP107","a":-0.45,"b":-0.45,"c":-0.45,"d":-0.45,"e":-0.45,"f":-0.45,"g2":-0.65,"h":-0.6,"i":-0.5,"j":-0.5,"k":-0.55,"l":-0.6}],
"B4":[
{"g":"StUSP26","a":-0.4,"b":-0.45,"c":-0.45,"d":-0.4,"e":-0.4,"f":-0.4,"g2":-0.6,"h":-0.6,"i":-0.5,"j":-0.5,"k":-0.65,"l":-0.55},
{"g":"StUSP29","a":-0.4,"b":-0.45,"c":-0.45,"d":-0.4,"e":-0.45,"f":-0.45,"g2":-0.5,"h":-0.35,"i":-0.35,"j":-0.45,"k":-0.35,"l":-0.5},
{"g":"StUSP30","a":-0.45,"b":-0.45,"c":-0.45,"d":-0.4,"e":-0.45,"f":-0.45,"g2":-0.6,"h":-0.55,"i":-0.45,"j":-0.5,"k":-0.55,"l":-0.6},
{"g":"StUSP33","a":-0.4,"b":-0.45,"c":-0.45,"d":-0.4,"e":-0.45,"f":-0.4,"g2":-0.1,"h":-0.3,"i":-0.2,"j":-0.45,"k":-0.2,"l":-0.4},
{"g":"StUSP36","a":-0.45,"b":-0.45,"c":-0.5,"d":-0.45,"e":-0.45,"f":-0.45,"g2":-0.6,"h":-0.6,"i":-0.5,"j":-0.5,"k":-0.55,"l":-0.5},
{"g":"StUSP37","a":-0.45,"b":-0.45,"c":-0.45,"d":-0.4,"e":-0.4,"f":-0.45,"g2":-0.6,"h":-0.55,"i":-0.5,"j":-0.5,"k":-0.6,"l":-0.55},
{"g":"StUSP45","a":-0.4,"b":-0.45,"c":-0.45,"d":-0.4,"e":-0.4,"f":-0.45,"g2":-0.6,"h":-0.55,"i":-0.5,"j":-0.5,"k":-0.5,"l":-0.55},
{"g":"StUSP48","a":-0.4,"b":-0.45,"c":-0.45,"d":-0.4,"e":-0.45,"f":-0.45,"g2":-0.6,"h":-0.55,"i":-0.5,"j":-0.5,"k":-0.5,"l":-0.55},
{"g":"StUSP51","a":-0.25,"b":-0.35,"c":-0.3,"d":-0.4,"e":-0.4,"f":-0.45,"g2":-0.6,"h":-0.55,"i":-0.5,"j":-0.5,"k":-0.55,"l":-0.5},
{"g":"StUSP53","a":-0.3,"b":-0.35,"c":-0.35,"d":-0.45,"e":-0.45,"f":-0.45,"g2":-0.6,"h":-0.55,"i":-0.5,"j":-0.5,"k":-0.5,"l":-0.5},
{"g":"StUSP56","a":-0.3,"b":-0.35,"c":-0.35,"d":-0.4,"e":-0.45,"f":-0.45,"g2":-0.6,"h":-0.55,"i":-0.45,"j":-0.5,"k":-0.45,"l":-0.5},
{"g":"StUSP58","a":-0.2,"b":-0.15,"c":-0.3,"d":-0.25,"e":-0.45,"f":-0.45,"g2":-0.55,"h":-0.55,"i":-0.45,"j":-0.5,"k":-0.45,"l":-0.45},
{"g":"StUSP59","a":-0.5,"b":-0.5,"c":-0.5,"d":-0.45,"e":-0.5,"f":-0.5,"g2":-0.6,"h":-0.55,"i":-0.5,"j":-0.5,"k":-0.6,"l":-0.6},
{"g":"StUSP63","a":-0.2,"b":-0.25,"c":-0.2,"d":-0.45,"e":-0.45,"f":-0.45,"g2":-0.55,"h":-0.5,"i":-0.35,"j":-0.5,"k":-0.45,"l":-0.5},
{"g":"StUSP66","a":-0.45,"b":-0.45,"c":-0.5,"d":-0.4,"e":-0.45,"f":-0.45,"g2":-0.6,"h":-0.6,"i":-0.5,"j":-0.5,"k":-0.6,"l":-0.55},
{"g":"StUSP69","a":-0.35,"b":-0.35,"c":-0.35,"d":-0.3,"e":-0.3,"f":-0.45,"g2":-0.55,"h":-0.4,"i":-0.45,"j":-0.5,"k":-0.4,"l":-0.45},
{"g":"StUSP70","a":-0.4,"b":-0.45,"c":-0.45,"d":-0.4,"e":-0.45,"f":-0.45,"g2":-0.55,"h":-0.5,"i":-0.45,"j":-0.45,"k":-0.45,"l":-0.4},
{"g":"StUSP73","a":-0.3,"b":-0.3,"c":-0.3,"d":-0.45,"e":-0.45,"f":-0.4,"g2":-0.55,"h":-0.6,"i":-0.5,"j":-0.5,"k":-0.45,"l":-0.45},
{"g":"StUSP75","a":-0.4,"b":-0.45,"c":-0.45,"d":-0.4,"e":-0.45,"f":-0.45,"g2":-0.6,"h":-0.55,"i":-0.5,"j":-0.5,"k":-0.6,"l":-0.5},
{"g":"StUSP76","a":-0.4,"b":-0.45,"c":-0.45,"d":-0.4,"e":-0.45,"f":-0.45,"g2":-0.6,"h":-0.55,"i":-0.5,"j":-0.5,"k":-0.55,"l":-0.5},
{"g":"StUSP90","a":-0.4,"b":-0.45,"c":-0.45,"d":-0.4,"e":-0.45,"f":-0.45,"g2":-0.6,"h":-0.55,"i":-0.5,"j":-0.5,"k":-0.55,"l":-0.5},
{"g":"StUSP91","a":-0.4,"b":-0.45,"c":-0.45,"d":-0.4,"e":-0.4,"f":-0.45,"g2":-0.55,"h":-0.55,"i":-0.5,"j":-0.5,"k":-0.5,"l":-0.5},
{"g":"StUSP94","a":-0.4,"b":-0.45,"c":-0.45,"d":-0.4,"e":-0.45,"f":-0.45,"g2":-0.6,"h":-0.55,"i":-0.5,"j":-0.5,"k":-0.6,"l":-0.55}],
"circles":[
{"panel":"C","set":"4h","x":213,"y":243},{"panel":"C","set":"48h","x":698,"y":243},{"panel":"C","set":"12h","x":453,"y":243},
{"panel":"D","set":"48h","x":333,"y":759},{"panel":"D","set":"4h","x":567,"y":759},{"panel":"D","set":"12h","x":450,"y":720},
{"panel":"E","set":"4h","x":340,"y":1262},{"panel":"E","set":"48h","x":442,"y":1434},{"panel":"E","set":"12h","x":545,"y":1262},
{"panel":"F","set":"4h","x":326,"y":1948},{"panel":"F","set":"48h","x":428,"y":2120},{"panel":"F","set":"12h","x":529,"y":1948}],
"bigcounts":[{"t":"2","x":199,"y":244},{"t":"3","x":333,"y":244},{"t":"4","x":455,"y":244},{"t":"3","x":574,"y":244},{"t":"1","x":714,"y":244}],
"labels":[
{"t":"CK0h vs DON12h","x":459,"y":105},{"t":"CK0h vs DON4h","x":195,"y":378},{"t":"CK0h vs DON48h","x":728,"y":378},
{"t":"CK0h vs DON12h","x":458,"y":882},{"t":"CK0h vs DON48h","x":344,"y":918},{"t":"CK0h vs DON4h","x":583,"y":918},
{"t":"3","x":449,"y":568},{"t":"4","x":309,"y":729},{"t":"1","x":589,"y":729},{"t":"4","x":201,"y":759},{"t":"1","x":449,"y":751},{"t":"3","x":698,"y":759},
{"t":"CK0h vs CK4h","x":290,"y":1125},{"t":"CK0h vs CK12h","x":589,"y":1125},{"t":"CK0h vs CK48h","x":440,"y":1576},
{"t":"1","x":442,"y":1161},{"t":"3","x":250,"y":1211},{"t":"0","x":635,"y":1211},{"t":"1","x":442,"y":1320},{"t":"0","x":301,"y":1399},{"t":"3","x":583,"y":1399},{"t":"0","x":442,"y":1537},
{"t":"CK0h vs CK4h","x":275,"y":1809},{"t":"CK0h vs CK12h","x":574,"y":1809},{"t":"CK0h vs CK48h","x":426,"y":2260},
{"t":"0","x":428,"y":1843},{"t":"1","x":234,"y":1895},{"t":"0","x":620,"y":1895},{"t":"5","x":428,"y":2003},{"t":"0","x":286,"y":2082},{"t":"2","x":569,"y":2082},{"t":"4","x":428,"y":2222}],
"captions":[{"t":"DON stress-Up","x":437,"y":477},{"t":"DON stress-Down","x":455,"y":1015},{"t":"Mechanical damage-Up","x":455,"y":1691},{"t":"Mechanical damage-Down","x":465,"y":2380}],
"letters":[{"t":"C","x":70,"y":37},{"t":"D","x":63,"y":610},{"t":"E","x":65,"y":1128},{"t":"F","x":67,"y":1804}]
},
"hconcat":[
{"spacing":0,"resolve":{"scale":{"color":"independent"},"legend":{"color":"independent"}},"vconcat":[
{"bounds":"flush","spacing":0,"resolve":{"scale":{"color":"independent"},"legend":{"color":"independent"}},"hconcat":[
{"width":600,"height":1190,"data":{"name":"A1"},"transform":[{"fold":["a","b","c","d","e","f","g2","h","i","j","k","l"],"as":["sample","z"]}],"title":{"text":"A","dx":15,"dy":231},"mark":"rect","encoding":{"x":{"field":"sample","type":"nominal","sort":null,"scale":{"range":[92,419]},"axis":{"orient":"bottom","offset":-456,"labelExpr":"don[indexof(keys,datum.value)]","title":"USP1","titleX":270,"titleY":406}},"y":{"field":"g","type":"nominal","sort":null,"scale":{"range":[175,734]},"axis":{"orient":"right","offset":-181,"title":null}},"color":{"field":"z","type":"quantitative","scale":{"domain":[-2,0,2],"range":["#0000cc","#ffffff","#ff0000"],"interpolate":"rgb"},"legend":{"orient":"none","legendX":555,"legendY":177,"title":null,"values":[-2,-1,0,1,2],"format":"d"}}}},
{"width":600,"height":1190,"data":{"name":"A2"},"transform":[{"fold":["a","b","c","d","e","f","g2","h","i","j","k","l"],"as":["sample","z"]}],"mark":"rect","encoding":{"x":{"field":"sample","type":"nominal","sort":null,"scale":{"range":[76,402.5]},"axis":{"orient":"bottom","offset":-204,"labelExpr":"don[indexof(keys,datum.value)]","title":"USP2","titleX":245,"titleY":157}},"y":{"field":"g","type":"nominal","sort":null,"scale":{"range":[177,986]},"axis":{"orient":"right","offset":-197.5,"title":null}},"color":{"field":"z","type":"quantitative","scale":{"domain":[-2,0,2],"range":["#0000cc","#ffffff","#ff0000"],"interpolate":"rgb"},"legend":{"orient":"none","legendX":556,"legendY":178,"title":null,"values":[-2,-1,0,1,2],"format":"d"}}}},
{"width":600,"height":1190,"data":{"name":"A3"},"transform":[{"fold":["a","b","c","d","e","f","g2","h","i","j","k","l"],"as":["sample","z"]}],"mark":"rect","encoding":{"x":{"field":"sample","type":"nominal","sort":null,"scale":{"range":[60,387.5]},"axis":{"orient":"bottom","offset":-376,"labelExpr":"don[indexof(keys,datum.value)]","title":"USP3","titleX":227,"titleY":329}},"y":{"field":"g","type":"nominal","sort":null,"scale":{"range":[172,814]},"axis":{"orient":"right","offset":-212.5,"title":null}},"color":{"field":"z","type":"quantitative","scale":{"domain":[-2,0,2],"range":["#0000cc","#ffffff","#ff0000"],"interpolate":"rgb"},"legend":{"orient":"none","legendX":541,"legendY":174,"title":null,"values":[-2,-1,0,1,2],"format":"d"}}}},
{"width":600,"height":1190,"data":{"name":"A4"},"transform":[{"fold":["a","b","c","d","e","f","g2","h","i","j","k","l"],"as":["sample","z"]}],"mark":"rect","encoding":{"x":{"field":"sample","type":"nominal","sort":null,"scale":{"range":[46,373.5]},"axis":{"orient":"bottom","offset":-371,"labelExpr":"don[indexof(keys,datum.value)]","title":"USP4","titleX":205,"titleY":324}},"y":{"field":"g","type":"nominal","sort":null,"scale":{"range":[177,819]},"axis":{"orient":"right","offset":-226.5,"title":null}},"color":{"field":"z","type":"quantitative","scale":{"domain":[-2,0,2],"range":["#0000cc","#ffffff","#ff0000"],"interpolate":"rgb"},"legend":{"orient":"none","legendX":512,"legendY":178,"title":null,"values":[-2,-1,0,1,2],"format":"d"}}}}
]},
{"bounds":"flush","spacing":0,"resolve":{"scale":{"color":"independent"},"legend":{"color":"independent"}},"hconcat":[
{"width":600,"height":1223,"data":{"name":"B1"},"transform":[{"fold":["a","b","c","d","e","f","g2","h","i","j","k","l"],"as":["sample","z"]}],"title":{"text":"B","dx":17,"dy":109},"mark":"rect","encoding":{"x":{"field":"sample","type":"nominal","sort":null,"scale":{"range":[89,416]},"axis":{"orient":"bottom","offset":-614.5,"labelExpr":"ck[indexof(keys,datum.value)]","title":"USP1","titleX":272,"titleY":373.5}},"y":{"field":"g","type":"nominal","sort":null,"scale":{"range":[49,608.5]},"axis":{"orient":"right","offset":-184,"title":null}},"color":{"field":"z","type":"quantitative","scale":{"domain":[-2,0,2],"range":["#0000cc","#ffffff","#ff0000"],"interpolate":"rgb"},"legend":{"orient":"none","legendX":553.5,"legendY":51,"title":null,"values":[-2,-1,0,1,2],"format":"d"}}}},
{"width":600,"height":1223,"data":{"name":"B2"},"transform":[{"fold":["a","b","c","d","e","f","g2","h","i","j","k","l"],"as":["sample","z"]}],"mark":"rect","encoding":{"x":{"field":"sample","type":"nominal","sort":null,"scale":{"range":[79,405.6]},"axis":{"orient":"bottom","offset":-359,"labelExpr":"ck[indexof(keys,datum.value)]","title":"USP2","titleX":243,"titleY":127}},"y":{"field":"g","type":"nominal","sort":null,"scale":{"range":[54,864]},"axis":{"orient":"right","offset":-194.4,"title":null}},"color":{"field":"z","type":"quantitative","scale":{"domain":[-2,0,2],"range":["#0000cc","#ffffff","#ff0000"],"interpolate":"rgb"},"legend":{"orient":"none","legendX":558.6,"legendY":56,"title":null,"values":[-2,-1,0,1,2],"format":"d"}}}},
{"width":600,"height":1223,"data":{"name":"B3"},"transform":[{"fold":["a","b","c","d","e","f","g2","h","i","j","k","l"],"as":["sample","z"]}],"mark":"rect","encoding":{"x":{"field":"sample","type":"nominal","sort":null,"scale":{"range":[63,390]},"axis":{"orient":"bottom","offset":-526,"labelExpr":"ck[indexof(keys,datum.value)]","title":"USP3","titleX":227,"titleY":294}},"y":{"field":"g","type":"nominal","sort":null,"scale":{"range":[54,697]},"axis":{"orient":"right","offset":-210,"title":null}},"color":{"field":"z","type":"quantitative","scale":{"domain":[-2,0,2],"range":["#0000cc","#ffffff","#ff0000"],"interpolate":"rgb"},"legend":{"orient":"none","legendX":542.5,"legendY":54,"title":null,"values":[-2,-1,0,1,2],"format":"d"}}}},
{"width":600,"height":1223,"data":{"name":"B4"},"transform":[{"fold":["a","b","c","d","e","f","g2","h","i","j","k","l"],"as":["sample","z"]}],"mark":"rect","encoding":{"x":{"field":"sample","type":"nominal","sort":null,"scale":{"range":[45,373]},"axis":{"orient":"bottom","offset":-529,"labelExpr":"ck[indexof(keys,datum.value)]","title":"USP4","titleX":186,"titleY":293}},"y":{"field":"g","type":"nominal","sort":null,"scale":{"range":[51,694]},"axis":{"orient":"right","offset":-227,"title":null}},"color":{"field":"z","type":"quantitative","scale":{"domain":[-2,0,2],"range":["#0000cc","#ffffff","#ff0000"],"interpolate":"rgb"},"legend":{"orient":"none","legendX":511,"legendY":53,"title":null,"values":[-2,-1,0,1,2],"format":"d"}}}}
]}
]},
{"width":912,"height":2413,
"encoding":{"x":{"field":"x","type":"quantitative","scale":{"domain":[0,912],"nice":false,"zero":false},"axis":null},"y":{"field":"y","type":"quantitative","scale":{"domain":[0,2413],"reverse":true,"nice":false,"zero":false},"axis":null}},
"layer":[
{"data":{"name":"circles"},"transform":[{"filter":"datum.panel=='C'||datum.panel=='D'"}],"mark":{"type":"point","filled":true,"size":145924,"opacity":1,"fillOpacity":1,"stroke":"#fdf3d8","strokeWidth":1.5,"strokeOpacity":0.7},"encoding":{"color":{"field":"set","type":"nominal","scale":{"domain":["4h","12h","48h"],"range":["rgba(72,135,154,0.72)","rgba(235,148,0,0.5)","rgba(204,110,76,0.72)"]},"legend":null}}},
{"data":{"name":"circles"},"transform":[{"filter":"datum.panel=='E'||datum.panel=='F'"}],"mark":{"type":"point","filled":true,"size":164836,"opacity":1,"fillOpacity":1,"stroke":"#fdf3d8","strokeWidth":1.5,"strokeOpacity":0.7},"encoding":{"color":{"field":"set","type":"nominal","scale":{"domain":["4h","12h","48h"],"range":["rgba(72,135,154,0.72)","rgba(235,148,0,0.5)","rgba(204,110,76,0.72)"]},"legend":null}}},
{"data":{"name":"bigcounts"},"mark":{"type":"text","font":"Liberation Serif","fontWeight":"bold","fontSize":42,"color":"#1a1a1a"},"encoding":{"text":{"field":"t"}}},
{"data":{"name":"labels"},"mark":{"type":"text","font":"Liberation Serif","fontWeight":"bold","fontSize":25,"color":"#1a1a1a"},"encoding":{"text":{"field":"t"}}},
{"data":{"name":"captions"},"mark":{"type":"text","font":"Liberation Serif","fontSize":37,"color":"#333"},"encoding":{"text":{"field":"t"}}},
{"data":{"name":"letters"},"mark":{"type":"text","font":"Liberation Serif","fontSize":60,"color":"#222"},"encoding":{"text":{"field":"t"}}}
]}
]}
